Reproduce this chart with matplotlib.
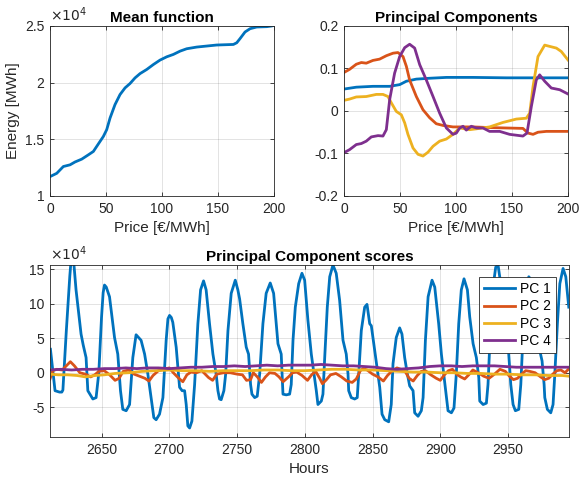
import matplotlib
matplotlib.use('Agg')
import matplotlib.pyplot as plt

plt.rcParams['font.family'] = ['Liberation Sans', 'DejaVu Sans']
plt.rcParams['axes.unicode_minus'] = False

# MATLAB default colour order
c1, c2, c3, c4 = '#0072BD', '#D95319', '#EDB120', '#7E2F8E'

# --- mean function (energy x1e4 vs price)
mean_price = [0, 6, 11.9, 17.9, 22.3, 28.3, 34.2, 38.7, 43.2, 47.6, 50.6, 53.6, 58, 62.5, 67,
              71.4, 75.9, 80.4, 86.3, 92.3, 98.2, 104.2, 110.1, 116.1, 122, 131, 139.9, 148.8,
              163.7, 166.7, 169.6, 174.1, 178.6, 184.5, 193.5, 197.9, 200]
mean_energy = [1.171, 1.20, 1.26, 1.275, 1.30, 1.325, 1.363, 1.393, 1.46, 1.525, 1.585, 1.688,
               1.806, 1.895, 1.954, 1.992, 2.042, 2.08, 2.116, 2.16, 2.199, 2.228, 2.249, 2.278,
               2.299, 2.314, 2.323, 2.332, 2.337, 2.352, 2.388, 2.447, 2.476, 2.491, 2.494, 2.50, 2.505]

# --- principal components (loadings vs price)
pc1_x = [0, 11, 25.9, 40.8, 49.7, 55.7, 64.6, 76.5, 91.4, 115.2, 145, 159.8, 174.7, 200]
pc1_y = [0.0516, 0.056, 0.058, 0.058, 0.062, 0.07, 0.075, 0.077, 0.079, 0.079, 0.078, 0.078, 0.078, 0.078]
pc2_x = [0, 5, 11, 15.5, 19.9, 25.9, 31.8, 37.8, 43.8, 48.2, 52.7, 55.7, 58.6, 64.6, 70.5, 76.5,
         82.4, 88.4, 97.3, 115.2, 130, 145, 159.8, 164.3, 168.8, 173.2, 180.7, 200]
pc2_y = [0.0906, 0.098, 0.11, 0.114, 0.1125, 0.119, 0.122, 0.130, 0.136, 0.1375, 0.128, 0.105,
         0.073, 0.034, 0.003, -0.016, -0.030, -0.034, -0.0375, -0.0375, -0.039, -0.040, -0.041,
         -0.052, -0.055, -0.050, -0.048, -0.048]
pc3_x = [0, 5, 11, 19.9, 28.9, 34.8, 39.3, 42.3, 46.7, 51.2, 54.2, 57.1, 61.6, 66.1, 70.5, 75,
         79.5, 85.4, 91.4, 97.3, 103.3, 112.2, 118.2, 130, 141.9, 153.9, 162.8, 165.8, 168.8,
         173.2, 179.2, 183.6, 189.6, 194, 200]
pc3_y = [0.025, 0.028, 0.033, 0.034, 0.039, 0.039, 0.034, 0.019, -0.001, -0.009, -0.028, -0.055,
         -0.087, -0.102, -0.106, -0.097, -0.083, -0.071, -0.066, -0.055, -0.040, -0.044, -0.042,
         -0.0375, -0.027, -0.019, -0.017, -0.005, 0.058, 0.128, 0.155, 0.152, 0.148, 0.140, 0.12]
pc4_x = [0, 5, 11, 15.5, 19.9, 24.4, 30.4, 34.8, 37.8, 40.8, 45.2, 49.7, 54.2, 58.6, 63.1, 67.6,
         73.5, 79.5, 85.4, 91.4, 97.3, 100.3, 103.3, 106.3, 109.2, 113.7, 118.2, 124.1, 130, 139,
         147.9, 159.8, 163.4, 167.3, 171.7, 174.7, 179.2, 185.1, 192.6, 200]
pc4_y = [-0.098, -0.091, -0.079, -0.0766, -0.071, -0.061, -0.058, -0.059, -0.044, 0.027, 0.089,
         0.128, 0.149, 0.157, 0.148, 0.109, 0.073, 0.034, -0.005, -0.040, -0.055, -0.052, -0.040,
         -0.036, -0.045, -0.036, -0.040, -0.040, -0.048, -0.048, -0.055, -0.059, -0.052, 0.011,
         0.073, 0.085, 0.070, 0.054, 0.050, 0.040]

# --- scores (x1e4) vs hours
s1_h = [2612.3, 2615.7, 2619, 2620.7, 2621.5, 2624, 2626.6, 2627.5, 2629.5, 2631.2, 2634.9, 2636.5,
        2638.6, 2639.9, 2643.6, 2646, 2648, 2650, 2651.2, 2652.2, 2653.5, 2655.9, 2659.6, 2662, 2664, 2665.7,
        2668.2, 2670.7, 2673.1, 2675.5, 2679.2, 2681.8, 2684.2, 2686.6, 2688.6, 2690.3, 2692.8,
        2695.3, 2697.7, 2699, 2700.2, 2701.5, 2702.6, 2705.1, 2707.6, 2709.5, 2711.3, 2712.5, 2713.7, 2715,
        2716.7, 2718.7, 2721.1, 2723.1, 2725.3, 2727.2, 2729.7, 2732.2, 2734.6, 2735.9, 2737.1,
        2738.3, 2740.3, 2741.6, 2743.3, 2745.7, 2748.7, 2750.6, 2751.9, 2754.3, 2756.8, 2758.5,
        2760, 2761, 2763, 2764.9, 2766.7, 2769.1, 2771.5, 2774.5, 2777, 2778.9, 2780.2, 2782.6,
        2783.9, 2786.3, 2788.8, 2790, 2791.3, 2793, 2795.5, 2797.9, 2799.9, 2802.3, 2804.8,
        2806.1, 2808.5, 2809.7, 2812.2, 2813.4, 2814.7, 2816.6, 2818.4, 2820.8, 2823.2, 2825.7,
        2828.2, 2830.6, 2831.9, 2832.4, 2834.3, 2836.8, 2838.7, 2839.8, 2841.7, 2844.2, 2845.9,
        2847.9, 2849.1, 2851.6, 2854, 2855.3, 2857, 2859, 2861.9, 2863.8, 2865.1, 2867.5, 2870,
        2871.7, 2873.7, 2875.7, 2877.4, 2879.9, 2881.1, 2883.6, 2886, 2887.3, 2889, 2891, 2893.9,
        2895.9, 2898.8, 2900.8, 2903.7, 2905.7, 2908.2, 2910.1, 2911.8, 2913.6, 2915.5, 2917.5,
        2920, 2921.7, 2924.2, 2926.6, 2928.4, 2929.1, 2931.6, 2934, 2935.2, 2937.2, 2938.9,
        2940.9, 2942.6, 2944.6, 2947.1, 2948.8, 2950.5, 2952, 2953.7, 2955.4, 2957.9, 2959.4,
        2961.1, 2962.8, 2965.3, 2967.2, 2969.7, 2971.7, 2973.4, 2975.1, 2976.6, 2977.1, 2979,
        2981.5, 2983.2, 2984.5, 2986.4, 2988.2, 2990.6, 2992.6, 2994.8]
s1_v = [3.4, -2.6, -2.8, -2.8, -2.5, 6, 14, 16.2, 16.0, 12, 5.6, 4.0,
        2.2, -2.6, -3.8, -3.6, 0, 8, 11.6, 12.7, 12.4, 11, 5.1, 2.7, -2.6, -5.3,
        -5.5, -4.6, 2.2, 5.5, 4.7, 2.7, -0.2, -3.6, -6.5, -6.8, -6.0,
        -3.6, 4.7, 7.8, 8.3, 8.0, 7.3, 3.7, -2.1, -2.6, -2.6, -4.6, -7.7, -8.0,
        -7.0, -1.7, 7.1, 12.0, 13.3, 12.0, 7.1, 2.7, -0.2, -2.6, -3.8,
        -3.9, -2.6, -0.2, 6.1, 11.5, 13.4, 12.0, 10.7, 7.1, 3.7, 2.7,
        -1.7, -3.1, -3.6, -3.4, -0.2, 7.1, 11.5, 13.0, 11.5, 7.1, 4.2, 2.7,
        -3.1, -3.2, -3.1, -1.7, 4.7, 9.5, 12.9, 14.4, 13.4, 7.6, 2.7,
        0.8, -2.6, -4.6, -4.1, -3.1, 2.2, 9.5, 13.9, 15.6, 14.4, 10.5,
        4.7, 2.7, -0.2, -2.6, -3.6, -3.8, -3.6, -0.2, 6.1, 9.5, 9.9,
        7.1, 6.8, 3.2, -0.2, -2.1, -6.0, -6.8, -7.1, -4.6, 1.3, 5.1, 6.5,
        5.6, 2.2, -0.2, -1.9, -2.6, -5.8, -6.3, -5.5, -3.6, 4.7, 11.0, 13.4,
        12.4, 7.1, 2.7, -2.1, -5.5, -5.8, -5.1, -0.2, 7.1, 12.0, 13.6,
        12.0, 8.1, 4.2, 2.2, -0.7, -4.1, -4.6, -4.4, -1.7, 7.1, 12.4,
        15.3, 15.6, 12.9, 9.5, 5.1, 2.7, -1.7, -4.6, -5.5, -5.3, -1.7,
        5.6, 11.5, 13.9, 13.4, 10.5, 7.1, 3.2, 1.7, -1.7, -3.6, -5.3,
        -5.8, -4.6, -0.2, 7.1, 12.9, 15.1, 13.9, 9.5]

s2_h = [2612, 2614, 2617, 2621, 2624, 2627, 2630, 2634, 2638, 2642, 2645, 2648, 2652, 2656, 2660,
        2663, 2666, 2670, 2674, 2678, 2682, 2685, 2688, 2692, 2696, 2700, 2703, 2707, 2710, 2713,
        2716, 2720, 2724, 2729, 2732, 2735, 2740, 2745, 2750, 2754, 2757, 2760, 2762, 2765, 2768,
        2771, 2774, 2778, 2781, 2784, 2788, 2791, 2794, 2798, 2802, 2805, 2808, 2811, 2813, 2816,
        2819, 2823, 2827, 2831, 2835, 2838, 2841, 2843, 2846, 2850, 2854, 2858, 2861, 2864, 2868,
        2871, 2874, 2877, 2880, 2883, 2886, 2889, 2893, 2897, 2900, 2903, 2906, 2909, 2912, 2915,
        2918, 2921, 2924, 2928, 2932, 2936, 2940, 2944, 2948, 2951, 2954, 2957, 2960, 2963, 2966,
        2970, 2974, 2977, 2980, 2983, 2986, 2989, 2992, 2995]
s2_v = [-0.9, 0.3, 0.5, 0.4, 1.0, 1.6, 1.0, 0.0, -0.2, -0.6, -0.3, 0.2, 0.3, -0.3, -1.1,
        -0.8, 0.2, 0.4, -0.2, -0.5, -0.8, -1.2, -0.4, 0.3, 0.5, 0.7, 0.0, -0.8, -1.3, -0.3,
        0.1, 0.0, 0.3, -0.7, -1.1, -0.2, 0.0, 0.0, -0.2, -0.3, -1.1, -1.0, 0.0, -0.6, -1.4,
        -0.6, 0.0, -0.1, -0.6, -1.3, -0.6, 0.0, 0.1, -0.4, -1.1, -0.3, 0.2, -0.8, -1.6, -1.0,
        -0.3, -0.1, -0.6, -1.2, -1.4, -0.9, 0.3, 0.6, 0.4, -0.2, -0.6, -1.2, -0.4, 0.2, 0.7,
        0.5, 0.2, -0.8, -1.2, -0.4, 0.2, 0.3, -0.3, -0.8, -1.1, -0.3, 0.3, 0.5, -0.2, -0.6,
        -0.9, -0.3, 0.4, 0.0, -0.5, -0.8, -0.2, 0.5, 0.2, -0.5, -1.0, -0.8, -0.2, 0.3, 0.2,
        0.0, -0.6, -1.0, -0.8, -0.2, 0.3, 0.4, 0.0, 0.6]

s3_h = [2612, 2618, 2625, 2632, 2638, 2645, 2652, 2660, 2670, 2680, 2690, 2700, 2710, 2720, 2730,
        2740, 2750, 2760, 2770, 2780, 2790, 2800, 2810, 2820, 2830, 2840, 2850, 2860, 2870, 2880,
        2890, 2900, 2910, 2920, 2930, 2940, 2950, 2960, 2970, 2980, 2990, 2995]
s3_v = [-0.2, -0.3, -0.3, -0.4, -0.6, -0.4, -0.3, -0.1, 0.0, 0.2, 0.3, 0.4, 0.3, 0.3, 0.2,
        0.3, 0.3, 0.3, 0.4, 0.4, 0.3, 0.3, 0.4, 0.5, 0.5, 0.4, 0.4, 0.3, 0.2, 0.1,
        0.1, 0.0, 0.0, -0.1, -0.1, -0.2, -0.2, -0.3, -0.3, -0.4, -0.4, -0.5]

s4_h = [2612, 2620, 2628, 2636, 2644, 2652, 2660, 2668, 2676, 2684, 2692, 2700, 2708, 2716, 2724,
        2732, 2740, 2748, 2756, 2764, 2772, 2780, 2788, 2796, 2804, 2812, 2820, 2828, 2836, 2844,
        2852, 2860, 2868, 2876, 2884, 2892, 2900, 2908, 2916, 2924, 2932, 2940, 2948, 2956, 2964,
        2972, 2980, 2988, 2995]
s4_v = [0.4, 0.5, 0.4, 0.5, 0.5, 0.6, 0.6, 0.7, 0.6, 0.7, 0.7, 0.6, 0.7, 0.8, 0.8,
        0.9, 0.9, 1.0, 0.9, 1.0, 1.1, 1.0, 1.1, 1.1, 1.1, 1.2, 1.1, 1.0, 1.0, 0.9,
        0.8, 0.6, 0.5, 0.6, 0.7, 0.9, 1.0, 1.0, 0.9, 1.0, 1.0, 1.0, 0.9, 0.8, 0.8,
        0.8, 0.8, 0.8, 0.8]

def style(ax):
    ax.grid(True, color='#262626', alpha=0.15, linewidth=0.6)
    ax.set_axisbelow(True)
    ax.tick_params(direction='in', top=True, right=True, length=3, width=0.6,
                   labelsize=10, colors='#262626', pad=4)
    for s in ax.spines.values():
        s.set_color('#262626')
        s.set_linewidth(0.6)

fig = plt.figure(figsize=(5.79, 4.82), dpi=100)
ax1 = fig.add_axes([0.0864, 0.5934, 0.3869, 0.3527])
ax2 = fig.add_axes([0.5941, 0.5934, 0.3869, 0.3527])
ax3 = fig.add_axes([0.0864, 0.0934, 0.8964, 0.3568])

lw = 2
ax1.plot(mean_price, mean_energy, color=c1, lw=lw)
ax1.set_xlim(0, 200)
ax1.set_ylim(1, 2.5)
ax1.set_yticks([1, 1.5, 2, 2.5])
ax1.set_yticklabels(['1', '1.5', '2', '2.5'])
ax1.set_xticks([0, 50, 100, 150, 200])
ax1.set_title('Mean function', fontsize=11, fontweight='bold', pad=3)
ax1.set_xlabel('Price [€/MWh]', fontsize=11, color='#262626')
ax1.set_ylabel('Energy [MWh]', fontsize=11, color='#262626')
ax1.text(0, 1.01, r'$\times10^4$', transform=ax1.transAxes, fontsize=10, color='#262626',
         va='bottom', ha='left')
style(ax1)

ax2.plot(pc1_x, pc1_y, color=c1, lw=lw)
ax2.plot(pc2_x, pc2_y, color=c2, lw=lw)
ax2.plot(pc3_x, pc3_y, color=c3, lw=lw)
ax2.plot(pc4_x, pc4_y, color=c4, lw=lw)
ax2.set_xlim(0, 200)
ax2.set_ylim(-0.2, 0.2)
ax2.set_yticks([-0.2, -0.1, 0, 0.1, 0.2])
ax2.set_yticklabels(['-0.2', '-0.1', '0', '0.1', '0.2'])
ax2.set_xticks([0, 50, 100, 150, 200])
ax2.set_title('Principal Components', fontsize=11, fontweight='bold', pad=3)
ax2.set_xlabel('Price [€/MWh]', fontsize=11, color='#262626')
style(ax2)

ax3.plot(s1_h, s1_v, color=c1, lw=lw, label='PC 1')
ax3.plot(s2_h, s2_v, color=c2, lw=lw, label='PC 2')
ax3.plot(s3_h, s3_v, color=c3, lw=lw, label='PC 3')
ax3.plot(s4_h, s4_v, color=c4, lw=lw, label='PC 4')
ax3.set_xlim(2612, 2995)
ax3.set_ylim(-9.3, 15.6)
ax3.set_yticks([-5, 0, 5, 10, 15])
ax3.set_xticks([2650, 2700, 2750, 2800, 2850, 2900, 2950])
ax3.set_title('Principal Component scores', fontsize=11, fontweight='bold', pad=3)
ax3.set_xlabel('Hours', fontsize=11, color='#262626')
ax3.text(0, 1.01, r'$\times10^4$', transform=ax3.transAxes, fontsize=10, color='#262626',
         va='bottom', ha='left')
style(ax3)
leg = ax3.legend(loc='upper right', bbox_to_anchor=(0.975, 0.93), fontsize=10, fancybox=False,
                 edgecolor='#262626', framealpha=1, handlelength=2.2, borderpad=0.35,
                 labelspacing=0.25, handletextpad=0.4, borderaxespad=0)
leg.get_frame().set_linewidth(0.6)

fig.savefig('out.png', dpi=100)
